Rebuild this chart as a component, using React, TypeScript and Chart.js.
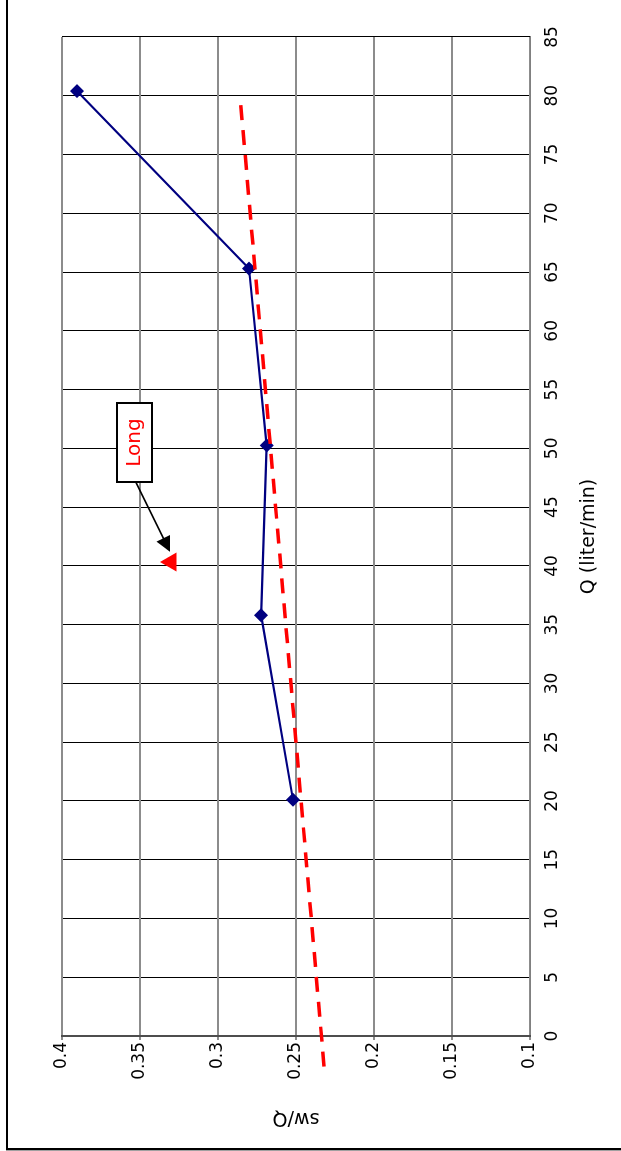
import React, { useEffect, useRef } from "react";
import { Chart, registerables } from "chart.js";

Chart.register(...registerables);

// ---- data ----
const qValues = [20.1, 35.8, 50.25, 65.3, 80.4];
const swqValues = [0.2519, 0.2724, 0.2688, 0.2801, 0.3904];
const trendQ = [-2.6, 79.4];
const trendSwq = [0.232, 0.2855];
const longQ = [40.33];
const longSwq = [0.3301];
const qTickLabels = ["0", "5", "10", "15", "20", "25", "30", "35", "40", "45", "50", "55", "60", "65", "70", "75", "80", "85"];
const swqTickLabels = ["0.1", "0.15", "0.2", "0.25", "0.3", "0.35", "0.4"];
const xTitle = "Q (liter/min)";
const yTitle = "sw/Q";
const noteText = "Long";
const noteBoxQ = [50.5];
const noteBoxSwq = [0.3534];
const arrowTipQ = [41.2];
const arrowTipSwq = [0.3308];

// ---- layout (original, unrotated orientation) ----
const W = 1200;
const H = 650;
const AREA_LEFT = 114;
const AREA_RIGHT = 1113;
const AREA_TOP = 56;
const AREA_BOTTOM = 524;
const FONT = "'DejaVu Sans', sans-serif";

const notePlugin = {
  id: "notePlugin",
  afterDatasetsDraw(chart: any) {
    const { ctx, scales } = chart;
    const xs = scales.x;
    const ys = scales.y;
    const cx = xs.getPixelForValue(noteBoxQ[0]);
    const cy = ys.getPixelForValue(noteBoxSwq[0]);
    const bw = 79;
    const bh = 35;
    const tx = xs.getPixelForValue(arrowTipQ[0]);
    const ty = ys.getPixelForValue(arrowTipSwq[0]);
    ctx.save();
    const sx = cx - bw / 2;
    const sy = cy + 1;
    const ang = Math.atan2(ty - sy, tx - sx);
    const headLen = 15;
    const headW = 7.5;
    ctx.strokeStyle = "#000";
    ctx.lineWidth = 1.6;
    ctx.beginPath();
    ctx.moveTo(sx, sy);
    ctx.lineTo(tx - Math.cos(ang) * headLen * 0.8, ty - Math.sin(ang) * headLen * 0.8);
    ctx.stroke();
    ctx.fillStyle = "#000";
    ctx.beginPath();
    ctx.moveTo(tx, ty);
    ctx.lineTo(
      tx - Math.cos(ang) * headLen + Math.sin(ang) * headW,
      ty - Math.sin(ang) * headLen - Math.cos(ang) * headW
    );
    ctx.lineTo(
      tx - Math.cos(ang) * headLen - Math.sin(ang) * headW,
      ty - Math.sin(ang) * headLen + Math.cos(ang) * headW
    );
    ctx.closePath();
    ctx.fill();
    ctx.fillStyle = "#fff";
    ctx.fillRect(cx - bw / 2, cy - bh / 2, bw, bh);
    ctx.strokeStyle = "#000";
    ctx.lineWidth = 2;
    ctx.strokeRect(Math.round(cx - bw / 2), Math.round(cy - bh / 2), bw, bh);
    ctx.fillStyle = "#ff0000";
    ctx.font = `20px ${FONT}`;
    ctx.textAlign = "center";
    ctx.textBaseline = "middle";
    ctx.fillText(noteText, cx, cy);
    ctx.restore();
  },
};

function RotatedChart() {
  const canvasRef = useRef<HTMLCanvasElement | null>(null);

  useEffect(() => {
    if (!canvasRef.current) return;
    Chart.defaults.font.family = FONT;
    Chart.defaults.color = "#000";
    const chart = new Chart(canvasRef.current, {
      type: "scatter",
      data: {
        datasets: [
          {
            label: "trend",
            data: trendQ.map((q, i) => ({ x: q, y: trendSwq[i] })),
            showLine: true,
            borderColor: "#ff0000",
            borderWidth: 3.5,
            borderDash: [15, 10],
            pointRadius: 0,
            clip: false as any,
          },
          {
            label: "Long",
            data: longQ.map((q, i) => ({ x: q, y: longSwq[i] })),
            showLine: false,
            pointStyle: "triangle",
            pointRadius: 11,
            pointBackgroundColor: "#ff0000",
            pointBorderColor: "#ff0000",
            pointBorderWidth: 0,
          },
          {
            label: "sw/Q",
            data: qValues.map((q, i) => ({ x: q, y: swqValues[i] })),
            showLine: true,
            borderColor: "#000080",
            borderWidth: 2.2,
            pointStyle: "rectRot",
            pointRadius: 7,
            pointBackgroundColor: "#000080",
            pointBorderColor: "#000080",
            pointBorderWidth: 0,
          },
        ],
      },
      options: {
        responsive: false,
        animation: false,
        events: [],
        layout: {
          padding: { left: 0, top: AREA_TOP, right: W - AREA_RIGHT, bottom: 0 },
        },
        plugins: {
          legend: { display: false },
          tooltip: { enabled: false },
        },
        scales: {
          x: {
            type: "linear",
            position: "bottom",
            min: 0,
            max: 85,
            ticks: {
              stepSize: 5,
              autoSkip: false,
              maxRotation: 0,
              minRotation: 0,
              padding: 12,
              color: "#000",
              font: { size: 17, family: FONT },
              callback: (_v: any, i: number) => qTickLabels[i] ?? "",
            },
            grid: { color: "#000", lineWidth: 1, drawTicks: false },
            border: { color: "#808080", width: 1 },
            title: {
              display: true,
              text: xTitle,
              color: "#000",
              font: { size: 19, family: FONT },
              padding: { top: 0, bottom: 56 },
            },
            afterFit: (s: any) => {
              s.height = H - AREA_BOTTOM;
            },
          },
          y: {
            type: "linear",
            position: "left",
            min: 0.1,
            max: 0.4,
            ticks: {
              stepSize: 0.05,
              padding: 2,
              color: "#000",
              font: { size: 17, family: FONT },
              callback: (_v: any, i: number) => swqTickLabels[i] ?? "",
            },
            grid: { color: "#8c8c8c", lineWidth: 2, tickLength: 4 },
            border: { color: "#4d4d4d", width: 2 },
            title: {
              display: true,
              text: yTitle,
              color: "#000",
              font: { size: 19, family: FONT },
              padding: { top: 21, bottom: 0 },
            },
            afterFit: (s: any) => {
              s.width = AREA_LEFT;
            },
          },
        },
      },
      plugins: [notePlugin],
    } as any);
    return () => chart.destroy();
  }, []);

  return (
    <canvas
      ref={canvasRef}
      width={W}
      height={H}
      style={{ position: "absolute", left: 0, top: 0 }}
    />
  );
}

export default function App() {
  return (
    <div
      style={{
        position: "fixed",
        left: 0,
        top: 0,
        width: 621,
        height: 1151,
        overflow: "hidden",
        background: "#fff",
      }}
    >
      <div
        style={{
          position: "absolute",
          left: 6,
          top: 1150,
          width: W,
          height: H,
          transformOrigin: "0 0",
          transform: "rotate(-90deg)",
        }}
      >
        <div
          style={{
            position: "absolute",
            left: 0,
            top: 0,
            width: W,
            height: H,
            boxSizing: "border-box",
            border: "2px solid #000",
            boxShadow: "-1px 0 0 #a0a0a0",
          }}
        />
        <RotatedChart />
      </div>
    </div>
  );
}
